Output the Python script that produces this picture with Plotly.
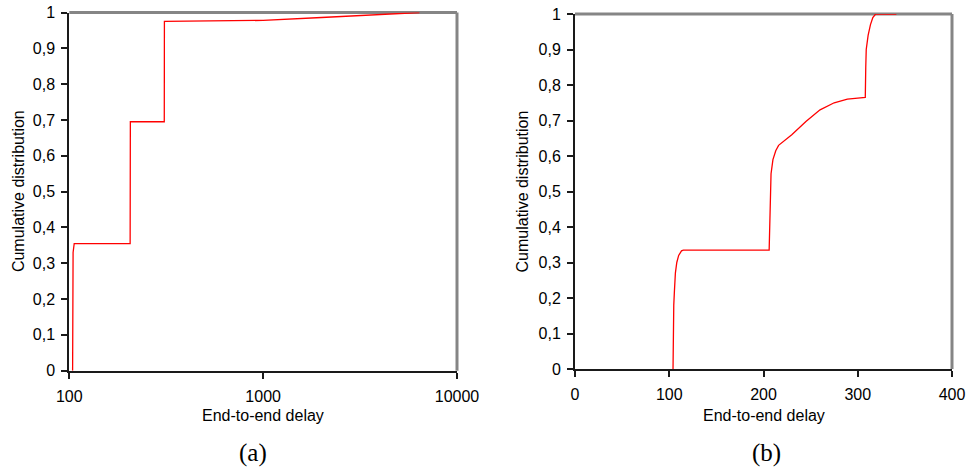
import plotly.graph_objects as go

# Panel (a): end-to-end delay CDF on a log axis
delay_a = [104, 104, 104.6, 106, 206, 206.5, 309, 309.5, 1000, 2000, 3000, 4500, 6400]
cdf_a = [0, 0.32, 0.33, 0.355, 0.355, 0.695, 0.695, 0.975, 0.978, 0.986, 0.991, 0.996, 1.0]

# Panel (b): end-to-end delay CDF on a linear axis
delay_b = [104, 104.3, 104.8, 105.5, 106.5, 108, 110, 113, 115, 206, 206.5, 207, 208, 210,
           213, 216, 230, 245, 260, 275, 289, 300, 308, 308.5, 309, 311, 313.5, 316, 319, 341]
cdf_b = [0, 0.1, 0.18, 0.22, 0.27, 0.3, 0.32, 0.333, 0.335, 0.335, 0.4, 0.5, 0.55, 0.59,
         0.615, 0.63, 0.66, 0.697, 0.73, 0.75, 0.76, 0.763, 0.765, 0.85, 0.9, 0.94, 0.97,
         0.99, 1.0, 1.0]

y_ticks = [0, 0.1, 0.2, 0.3, 0.4, 0.5, 0.6, 0.7, 0.8, 0.9, 1]
y_tick_labels = ["0", "0,1", "0,2", "0,3", "0,4", "0,5", "0,6", "0,7", "0,8", "0,9", "1"]
xa_ticks = [100, 1000, 10000]
xa_tick_labels = ["100", "1000", "10000"]
xb_ticks = [0, 100, 200, 300, 400]
xb_tick_labels = ["0", "100", "200", "300", "400"]

W, H = 967, 467
FONT = "Liberation Sans, Arial, sans-serif"
RED = "#ff0000"

fig = go.Figure()
fig.add_trace(go.Scatter(x=delay_a, y=cdf_a, mode="lines", xaxis="x", yaxis="y",
                         line=dict(color=RED, width=1.3), showlegend=False))
fig.add_trace(go.Scatter(x=delay_b, y=cdf_b, mode="lines", xaxis="x2", yaxis="y2",
                         line=dict(color=RED, width=1.3), showlegend=False))

axis_common = dict(showline=True, linecolor="#1a1a1a", linewidth=2, ticks="outside",
                   ticklen=6, tickwidth=1.5, tickcolor="#1a1a1a", showgrid=False,
                   zeroline=False, automargin=False,
                   tickfont=dict(family=FONT, size=16, color="black"))

def px_x(p):
    return p / W

def px_y(p):
    return 1 - p / H

fig.update_layout(
    width=W, height=H, margin=dict(l=0, r=0, t=0, b=0), autosize=False,
    paper_bgcolor="white", plot_bgcolor="white",
    xaxis=dict(type="log", range=[2, 4], domain=[px_x(69.3), px_x(457)], anchor="y",
               tickvals=xa_ticks, ticktext=xa_tick_labels, ticklabelstandoff=4, **axis_common),
    yaxis=dict(range=[0, 1], domain=[px_y(370.7), px_y(12.5)], anchor="x",
               tickvals=y_ticks, ticktext=y_tick_labels, ticklabelstandoff=3, **axis_common),
    xaxis2=dict(range=[0, 400], domain=[px_x(575), px_x(952)], anchor="y2",
                tickvals=xb_ticks, ticktext=xb_tick_labels, ticklabelstandoff=4, **axis_common),
    yaxis2=dict(range=[0, 1], domain=[px_y(369), px_y(14)], anchor="x2",
                tickvals=y_ticks, ticktext=y_tick_labels, ticklabelstandoff=3, **axis_common),
)

# gray frame on the top and right edges of each plot area
for xr, yr in (("x domain", "y domain"), ("x2 domain", "y2 domain")):
    fig.add_shape(type="line", xref=xr, yref=yr, x0=0, x1=1, y0=1, y1=1,
                  line=dict(color="#858585", width=3), layer="below")
    fig.add_shape(type="line", xref=xr, yref=yr, x0=1, x1=1, y0=0, y1=1,
                  line=dict(color="#858585", width=3), layer="below")

title_font = dict(family=FONT, size=16, color="black")
caption_font = dict(family="Liberation Serif, Times New Roman, serif", size=25, color="black")
annotations = [
    dict(text="Cumulative distribution", x=px_x(18.5), y=px_y(191.6), textangle=-90, font=title_font),
    dict(text="Cumulative distribution", x=px_x(522), y=px_y(191.5), textangle=-90, font=title_font),
    dict(text="End-to-end delay", x=px_x(263), y=px_y(415), font=title_font),
    dict(text="End-to-end delay", x=px_x(764), y=px_y(415), font=title_font),
    dict(text="(a)", x=px_x(253), y=px_y(453), font=caption_font),
    dict(text="(b)", x=px_x(766), y=px_y(453), font=caption_font),
]
for a in annotations:
    fig.add_annotation(xref="paper", yref="paper", showarrow=False,
                       xanchor="center", yanchor="middle", **a)

fig.write_html("out.html")
